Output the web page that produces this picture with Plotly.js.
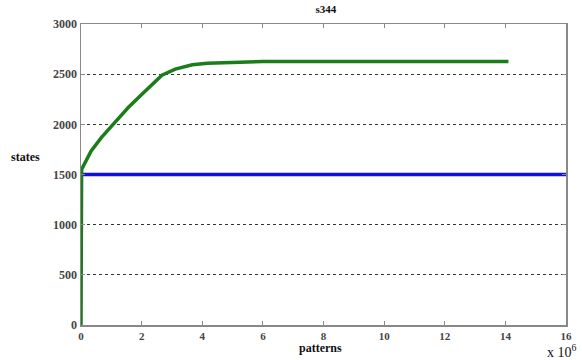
<!DOCTYPE html>
<html>
<head>
<meta charset="utf-8">
<script src="https://cdn.plot.ly/plotly-3.0.1.min.js"></script>
<style>html,body{margin:0;padding:0;background:#fff;}#chart{width:582px;height:360px;}</style>
</head>
<body>
<div id="chart"></div>
<script>
// patterns (x 10^6) and states
const greenX = [0, 0, 0.02, 0.33, 0.67, 1.06, 1.56, 1.95, 2.28, 2.67, 3.11, 3.67, 4.17, 4.8, 5.4, 6.0, 8.0, 10.0, 12.0, 14.1];
const greenY = [0, 700, 1550, 1733, 1867, 2000, 2167, 2283, 2383, 2490, 2550, 2593, 2608, 2615, 2625, 2626, 2626, 2626, 2626, 2626];
const blueX = [0, 16];
const blueY = [1500, 1500];
const xTicks = [0, 2, 4, 6, 8, 10, 12, 14, 16];
const yTicks = [0, 500, 1000, 1500, 2000, 2500, 3000];

const serif = '"Liberation Serif", "Times New Roman", serif';

const data = [
  {x: blueX, y: blueY, type: 'scatter', mode: 'lines', line: {color: '#1010e0', width: 3.5}, hoverinfo: 'skip'},
  {x: greenX, y: greenY, type: 'scatter', mode: 'lines', line: {color: '#1a7d1a', width: 3.5}, hoverinfo: 'skip'}
];

const layout = {
  width: 582, height: 360,
  margin: {l: 81, r: 16, t: 24, b: 35},
  paper_bgcolor: '#fff', plot_bgcolor: '#fff',
  showlegend: false,
  font: {family: serif, color: '#222', size: 11},
  title: {text: '<b>s344</b>', x: 0.56, xanchor: 'center', y: 0.975, yanchor: 'middle', font: {family: serif, size: 11, color: '#111'}},
  xaxis: {
    range: [0, 16], tickvals: xTicks, ticktext: xTicks.map(v => '<b>' + v + '</b>'),
    showgrid: false, zeroline: false,
    showline: true, linecolor: '#888', linewidth: 1.5, mirror: 'ticks',
    ticks: 'inside', ticklen: 4, tickcolor: '#888',
    tickfont: {family: serif, size: 11, color: '#444'}
  },
  yaxis: {
    range: [0, 3000], tickvals: yTicks, ticktext: yTicks.map(v => '<b>' + v + '</b>'),
    showgrid: true, gridcolor: '#333', griddash: 'dot', gridwidth: 1,
    zeroline: false,
    showline: true, linecolor: '#888', linewidth: 1.5, mirror: 'ticks',
    ticks: 'inside', ticklen: 4, tickcolor: '#888',
    tickfont: {family: serif, size: 12, color: '#444'}
  },
  annotations: [
    {text: '<b>states</b>', xref: 'paper', yref: 'paper', x: -0.148, y: 0.558, xanchor: 'left', yanchor: 'middle', showarrow: false, font: {family: serif, size: 12, color: '#111'}},
    {text: '<b>patterns</b>', xref: 'paper', yref: 'paper', x: 0.493, y: -0.078, xanchor: 'center', yanchor: 'middle', showarrow: false, font: {family: serif, size: 12, color: '#111'}},
    {text: 'x 10<sup>6</sup>', xref: 'paper', yref: 'paper', x: 1.027, y: -0.086, xanchor: 'right', yanchor: 'middle', showarrow: false, font: {family: serif, size: 14, color: '#111'}}
  ]
};

Plotly.newPlot('chart', data, layout, {staticPlot: true, displayModeBar: false});
</script>
</body>
</html>
